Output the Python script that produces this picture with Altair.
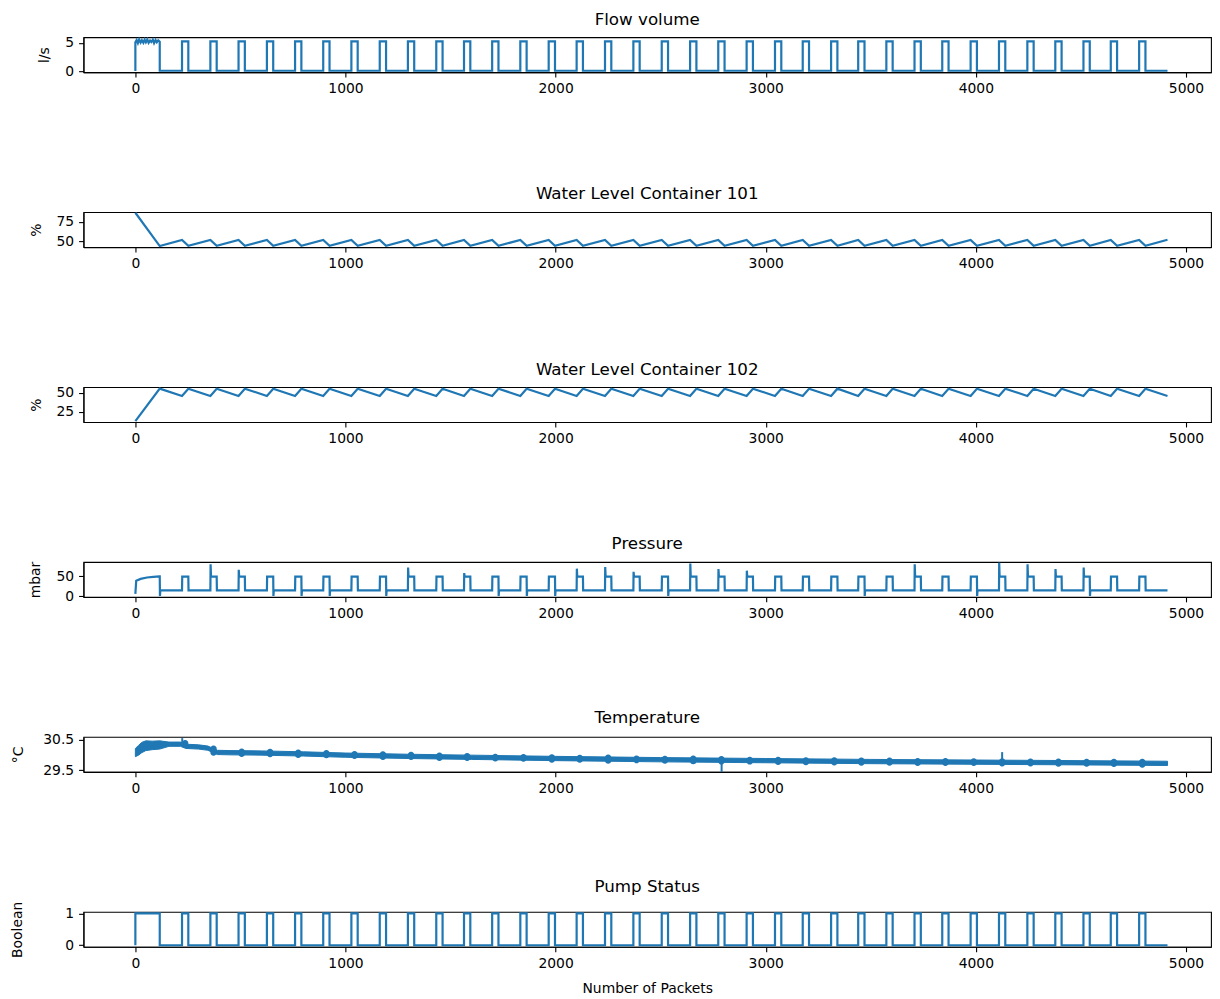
import altair as alt
import pandas as pd

# ---------------- data ----------------
# pump cycle start / end (packet index)
rises = [0, 222, 357, 491, 626, 760, 894, 1028, 1163, 1297, 1432, 1564, 1698, 1832,
         1967, 2100, 2235, 2370, 2505, 2640, 2774, 2909, 3044, 3176, 3311, 3440,
         3574, 3708, 3840, 3975, 4110, 4245, 4378, 4512, 4642, 4777]
falls = [116, 252, 387, 521, 656, 790, 924, 1058, 1193, 1327, 1462, 1594, 1728, 1862,
         1997, 2130, 2265, 2400, 2535, 2670, 2804, 2939, 3074, 3206, 3341, 3470,
         3604, 3738, 3870, 4005, 4140, 4275, 4408, 4542, 4672, 4807]
last_packet = 4912

# Flow volume (l/s)
flow_first_x = [0, 0, 6, 12, 18, 25, 31, 38, 44, 50, 57, 63, 70, 76, 83, 89, 96, 102, 109, 116]
flow_first_y = [0.0, 5.1, 5.5, 4.95, 5.6, 5.05, 5.45, 5.0, 5.55, 5.1, 5.6, 5.0, 5.4, 5.15,
                5.55, 4.95, 5.5, 5.1, 5.45, 5.2]
flow_on = 5.25
flow_off = 0.05

# Water level container 101 (%)
wl101_start = [86.7, 44.3]
wl101_peak = 52.2
wl101_trough = 44.6
wl101_end = 52.4

# Water level container 102 (%)
wl102_start = [12.9, 55.2]
wl102_trough = 45.7
wl102_peak = 55.2
wl102_end = 45.6

# Pressure (mbar)
press_first_x = [0, 4, 25, 55, 85, 115]
press_first_y = [6.0, 39.0, 43.5, 47.0, 48.5, 49.5]
press_on = 49.0
press_off = 15.0
press_spike = [None, 80, 66, None, None, None, None, None, 72, None, 58, None, None, None,
               69, 73, 61, None, 82, 68, 64, None, None, None, None, None, 80, None, None,
               84, 80, 68, 72, None, None]
press_dip = [None, None, None, 1, 1, 1, None, 1, None, None, None, 1, 1, 1,
             None, None, None, 1, None, None, None, None, None, None, 1, None, None, None, 1,
             None, None, None, 1, None, None]
press_first_dip = 1.0

# Temperature (°C): noise band envelope
temp_x = [0, 15, 30, 50, 80, 116, 160, 215, 240, 300, 345, 390, 450, 600, 800, 1000,
          1300, 1600, 2000, 2500, 3000, 3500, 4000, 4500, 4912]
temp_lo = [29.95, 30.0, 30.08, 30.15, 30.18, 30.2, 30.29, 30.29, 30.22, 30.2, 30.16, 30.02,
           30.01, 30.0, 29.97, 29.93, 29.89, 29.86, 29.82, 29.78, 29.75, 29.72, 29.7, 29.68, 29.66]
temp_hi = [30.22, 30.32, 30.42, 30.47, 30.46, 30.47, 30.43, 30.43, 30.36, 30.34, 30.3, 30.16,
           30.15, 30.14, 30.11, 30.07, 30.03, 30.0, 29.96, 29.92, 29.89, 29.86, 29.84, 29.82, 29.8]
# bursts at each pump cycle (from the second cycle)
burst_lo = [30.25, 29.98, 29.94, 29.93, 29.91, 29.9, 29.87, 29.84, 29.84, 29.81, 29.81, 29.79,
            29.78, 29.75, 29.75, 29.72, 29.73, 29.72, 29.7, 29.69, 29.69, 29.68, 29.67, 29.66,
            29.65, 29.65, 29.64, 29.64, 29.64, 29.63, 29.63, 29.62, 29.62, 29.61, 29.59]
burst_hi = [30.5, 30.32, 30.22, 30.21, 30.19, 30.17, 30.14, 30.13, 30.11, 30.09, 30.07, 30.05,
            30.04, 30.03, 30.01, 30.02, 29.99, 29.98, 29.99, 29.97, 29.95, 29.95, 29.93, 29.93,
            29.92, 29.92, 29.91, 29.91, 29.9, 29.9, 29.89, 29.89, 29.88, 29.88, 29.88]
needle_x = [223, 2790, 4125]
needle_lo = [30.3, 29.45, 29.75]
needle_hi = [30.56, 29.8, 30.1]

# ---------------- build tables ----------------
def table(xs, ys):
    return pd.DataFrame({"x": xs, "y": ys, "i": list(range(len(xs)))})

def flow_df():
    xs, ys = list(flow_first_x), list(flow_first_y)
    xs.append(falls[0]); ys.append(flow_off)
    for r, f in zip(rises[1:], falls[1:]):
        xs += [r, r, f, f]; ys += [flow_off, flow_on, flow_on, flow_off]
    xs.append(last_packet); ys.append(flow_off)
    return table(xs, ys)

def pump_df():
    xs, ys = [], []
    for r, f in zip(rises, falls):
        xs += [r, r, f, f]; ys += [0, 1, 1, 0]
    xs.append(last_packet); ys.append(0)
    return table(xs, ys)

def wl101_df():
    xs, ys = [0, falls[0]], list(wl101_start)
    for r, f in zip(rises[1:], falls[1:]):
        xs += [r, f]; ys += [wl101_peak, wl101_trough]
    xs.append(last_packet); ys.append(wl101_end)
    return table(xs, ys)

def wl102_df():
    xs, ys = [0, falls[0]], list(wl102_start)
    for r, f in zip(rises[1:], falls[1:]):
        xs += [r, f]; ys += [wl102_trough, wl102_peak]
    xs.append(last_packet); ys.append(wl102_end)
    return table(xs, ys)

def press_df():
    xs, ys = list(press_first_x), list(press_first_y)
    xs += [falls[0], falls[0] + 1, falls[0] + 3]
    ys += [press_first_y[-1], press_first_dip, press_off]
    for r, f, s, d in zip(rises[1:], falls[1:], press_spike, press_dip):
        if s is None:
            xs += [r, r + 1]; ys += [press_off, press_on]
        else:
            xs += [r, r + 1, r + 3]; ys += [press_off, s, press_on]
        if d is None:
            xs += [f, f + 1]; ys += [press_on, press_off]
        else:
            xs += [f, f + 1, f + 3]; ys += [press_on, d, press_off]
    xs.append(last_packet); ys.append(press_off)
    return table(xs, ys)

temp_band = pd.DataFrame({"x": temp_x, "lo": temp_lo, "hi": temp_hi})
temp_bursts = pd.DataFrame({"x": rises[1:], "x2": falls[1:], "lo": burst_lo, "hi": burst_hi})
temp_needles = pd.DataFrame({"x": needle_x, "lo": needle_lo, "hi": needle_hi})

# ---------------- chart ----------------
BLUE = "#1f77b4"
XDOM = [-247, 5119]
W, H = 1128, 35

def xenc(last=False, field="x"):
    return alt.X(f"{field}:Q", scale=alt.Scale(domain=XDOM, nice=False, zero=False),
                 axis=alt.Axis(values=[0, 1000, 2000, 3000, 4000, 5000], format="d",
                               title="Number of Packets" if last else None))

def yaxis(vals, title, tx, fmt):
    return alt.Axis(values=vals, title=title, titleX=tx, titleBaseline="middle",
                    titleAngle=270, format=fmt)

def line_panel(df, title, ytitle, dom, ticks, tx, last=False):
    return alt.Chart(df).mark_line(color=BLUE, strokeWidth=2.2).encode(
        x=xenc(last),
        y=alt.Y("y:Q", scale=alt.Scale(domain=dom, nice=False, zero=False),
                axis=yaxis(ticks, ytitle, tx, "d")),
        order="i:Q",
    ).properties(width=W, height=H, title=title)

p1 = line_panel(flow_df(), "Flow volume", "l/s", [-0.2, 6.0], [0, 5], -39)
p2 = line_panel(wl101_df(), "Water Level Container 101", "%", [43.0, 87.5], [50, 75], -47)
p3 = line_panel(wl102_df(), "Water Level Container 102", "%", [11.7, 57.3], [25, 50], -47)
p4 = line_panel(press_df(), "Pressure", "mbar", [-1.7, 85.7], [0, 50], -48)

TDOM = [29.45, 30.6]
tscale = alt.Scale(domain=TDOM, nice=False, zero=False)
band = alt.Chart(temp_band).mark_area(color=BLUE, opacity=1, stroke=BLUE, strokeWidth=1).encode(
    x=xenc(),
    y=alt.Y("lo:Q", scale=tscale, axis=yaxis([29.5, 30.0, 30.5], "°C", -65, ".1f")),
    y2="hi:Q",
)
bursts = alt.Chart(temp_bursts).mark_rect(color=BLUE, cornerRadius=3).encode(
    x=alt.X("x:Q", scale=alt.Scale(domain=XDOM, nice=False, zero=False)),
    x2="x2:Q",
    y=alt.Y("lo:Q", scale=tscale),
    y2="hi:Q",
)
needles = alt.Chart(temp_needles).mark_rule(color=BLUE, strokeWidth=2).encode(
    x=alt.X("x:Q", scale=alt.Scale(domain=XDOM, nice=False, zero=False)),
    y=alt.Y("lo:Q", scale=tscale),
    y2="hi:Q",
)
p5 = alt.layer(band, bursts, needles).properties(width=W, height=H, title="Temperature")

p6 = line_panel(pump_df(), "Pump Status", "Boolean", [-0.05, 1.05], [0, 1], -66, last=True)

chart = alt.vconcat(p1, p2, p3, p4, p5, p6, spacing=140, bounds="flush").properties(
    padding={"left": 1.5, "top": 3, "right": 0, "bottom": 0},
).configure_axis(
    labelFont="DejaVu Sans", labelFontSize=13.9, labelColor="black",
    titleFont="DejaVu Sans", titleFontSize=13.9, titleFontWeight="normal", titleColor="black",
    tickColor="black", domainColor="black", tickSize=4.9, tickWidth=1.1, domainWidth=1.1,
    labelPadding=4.9, grid=False,
).configure_axisX(
    titlePadding=11,
).configure_view(
    stroke="black", strokeWidth=1.1,
).configure_title(
    font="DejaVu Sans", fontSize=16.7, fontWeight="normal", color="black",
    anchor="middle", frame="group", offset=6, baseline="alphabetic",
)

chart.save("out.html", embed_options={"renderer": "svg", "actions": False})
